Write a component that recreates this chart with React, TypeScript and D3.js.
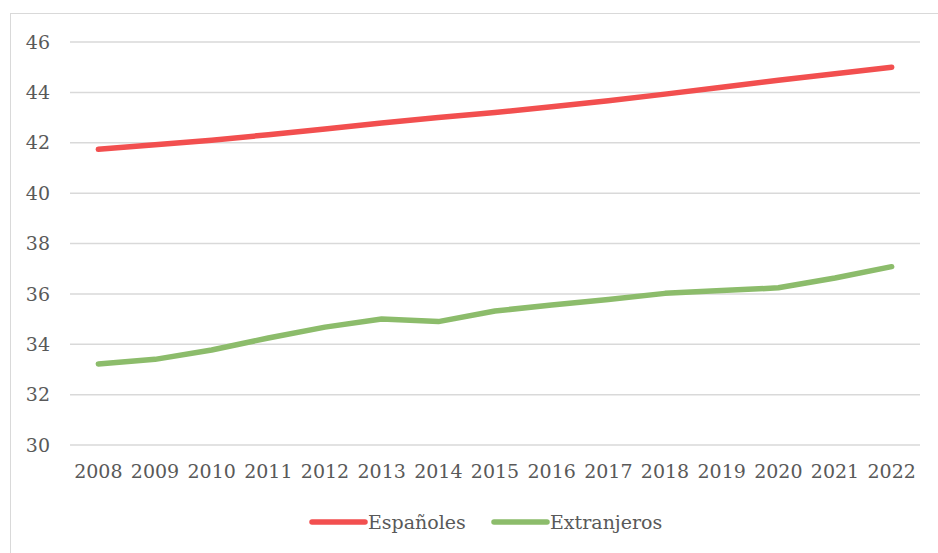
import React, { useEffect, useRef } from "react";
import { select, scaleBand, scaleLinear, line, range } from "d3";

const years = [
  "2008", "2009", "2010", "2011", "2012", "2013", "2014", "2015",
  "2016", "2017", "2018", "2019", "2020", "2021", "2022",
];
const espanoles = [
  41.74, 41.92, 42.1, 42.32, 42.55, 42.78, 43.0, 43.2, 43.43, 43.67, 43.93,
  44.2, 44.48, 44.74, 45.0,
];
const extranjeros = [
  33.22, 33.4, 33.77, 34.25, 34.68, 35.0, 34.9, 35.32, 35.56, 35.78, 36.02,
  36.13, 36.24, 36.63, 37.08,
];
const yTicks = [30, 32, 34, 36, 38, 40, 42, 44, 46];

const seriesNames = ["Españoles", "Extranjeros"];
const seriesColors = ["#f24f4f", "#8cbc6b"];

const W = 938;
const H = 553;

const App = () => {
  const svgRef = useRef<SVGSVGElement>(null);

  useEffect(() => {
    const svg = select(svgRef.current);
    svg.selectAll("*").remove();

    const font = '"DejaVu Serif", "Liberation Serif", serif';

    // outer border
    svg
      .append("rect")
      .attr("x", 10.5)
      .attr("y", 13.5)
      .attr("width", W + 10)
      .attr("height", H + 10)
      .attr("fill", "#fff")
      .attr("stroke", "#d9d9d9")
      .attr("stroke-width", 1);

    // Scaling
    const xScale = scaleBand().domain(years).range([70, 920]).padding(0);
    const xc = (d: string) => (xScale(d) as number) + xScale.bandwidth() / 2;
    const yScale = scaleLinear().domain([30, 46]).range([445, 42]);

    // grid
    svg
      .append("g")
      .selectAll("line")
      .data(yTicks)
      .join("line")
      .attr("x1", 70)
      .attr("x2", 920)
      .attr("y1", (d) => yScale(d))
      .attr("y2", (d) => yScale(d))
      .attr("stroke", "#d9d9d9")
      .attr("stroke-width", 1.5);

    // y labels
    svg
      .append("g")
      .selectAll("text")
      .data(yTicks)
      .join("text")
      .attr("x", 50)
      .attr("y", (d) => yScale(d))
      .attr("dy", "0.35em")
      .attr("text-anchor", "end")
      .style("font-family", font)
      .attr("font-size", 19)
      .attr("fill", "#595959")
      .text((d) => d);

    // x labels
    svg
      .append("g")
      .selectAll("text")
      .data(years)
      .join("text")
      .attr("x", (d) => xc(d))
      .attr("y", 471)
      .attr("dy", "0.35em")
      .attr("text-anchor", "middle")
      .style("font-family", font)
      .attr("font-size", 19)
      .attr("fill", "#595959")
      .text((d) => d);

    // lines
    const lineGen = line<number>()
      .x((_, i) => xc(years[i]))
      .y((d) => yScale(d));

    [espanoles, extranjeros].forEach((values, k) => {
      svg
        .append("path")
        .datum(values)
        .attr("d", lineGen)
        .attr("fill", "none")
        .attr("stroke", seriesColors[k])
        .attr("stroke-width", 5.5)
        .attr("stroke-linecap", "round")
        .attr("stroke-linejoin", "round");
    });

    // legend
    const legendX = [310, 492];
    const legend = svg
      .append("g")
      .selectAll("g")
      .data(range(seriesNames.length))
      .join("g")
      .attr("transform", (i) => `translate(${legendX[i]},522)`);

    legend
      .append("line")
      .attr("x1", 2)
      .attr("x2", 55)
      .attr("y1", 0)
      .attr("y2", 0)
      .attr("stroke", (i) => seriesColors[i])
      .attr("stroke-width", 5.5)
      .attr("stroke-linecap", "round");

    legend
      .append("text")
      .attr("x", 58)
      .attr("y", 0)
      .attr("dy", "0.35em")
      .style("font-family", font)
      .attr("font-size", 19)
      .attr("fill", "#595959")
      .text((i) => seriesNames[i]);
  }, []);

  return (
    <svg
      ref={svgRef}
      width={W}
      height={H}
      style={{ position: "absolute", left: 0, top: 0, background: "#fff" }}
    />
  );
};

export default App;
